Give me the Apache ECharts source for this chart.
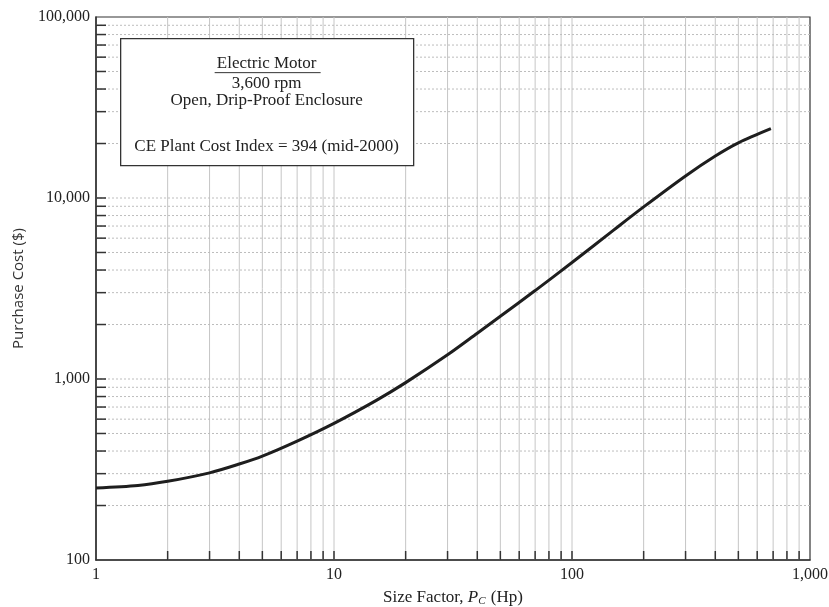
<!DOCTYPE html>
<html>
<head>
<meta charset="utf-8">
<title>Electric Motor Purchase Cost</title>
<script src="https://cdn.jsdelivr.net/npm/echarts@6/dist/echarts.min.js"></script>
<style>
  html, body { margin: 0; padding: 0; background: #fff; }
  #main { width: 829px; height: 607px; }
</style>
</head>
<body>
<div id="main"></div>
<script>
// size factor Pc (Hp) and purchase cost ($)
var sizeFactor = [1, 1.5, 2, 3, 4, 5, 7, 10, 15, 20, 30, 40, 50, 70, 100, 150, 200, 300, 400, 500, 685];
var purchaseCost = [250, 258, 272, 303, 339, 375, 454, 569, 760, 955, 1360, 1790, 2220, 3080, 4400, 6670, 8930, 13240, 17060, 20180, 24150];

// minor grid values (2..9 in every decade)
var xMinor = [2, 3, 4, 5, 6, 7, 8, 9, 20, 30, 40, 50, 60, 70, 80, 90, 200, 300, 400, 500, 600, 700, 800, 900];
var yMinor = [200, 300, 400, 500, 600, 700, 800, 900, 2000, 3000, 4000, 5000, 6000, 7000, 8000, 9000,
              20000, 30000, 40000, 50000, 60000, 70000, 80000, 90000];
var xDecades = [10, 100];
var yDecades = [1000, 10000];

var boxLines = ['Electric Motor', '3,600 rpm', 'Open, Drip-Proof Enclosure', 'CE Plant Cost Index = 394 (mid-2000)'];

var serif = '"Liberation Serif", "DejaVu Serif", serif';

function withCommas(v) {
    return String(Math.round(v)).replace(/\B(?=(\d{3})+(?!\d))/g, ',');
}

var myChart = echarts.init(document.getElementById('main'));

// vertical grid lines + short ticks on the x axis
function renderXGrid(params, api) {
    var cs = params.coordSys;
    var x = api.coord([api.value(0), 100])[0];
    var bottom = cs.y + cs.height;
    return {
        type: 'group',
        children: [
            { type: 'line', shape: { x1: x, y1: cs.y, x2: x, y2: bottom },
              style: { stroke: '#c6c6c6', lineWidth: 1 } },
            { type: 'line', shape: { x1: x, y1: bottom, x2: x, y2: bottom - 9 },
              style: { stroke: '#333', lineWidth: 1.5 } }
        ]
    };
}

// horizontal dotted grid lines + short ticks on the y axis
function renderYGrid(params, api) {
    var cs = params.coordSys;
    var y = api.coord([1, api.value(1)])[1];
    return {
        type: 'group',
        children: [
            { type: 'line', shape: { x1: cs.x, y1: y, x2: cs.x + cs.width, y2: y },
              style: { stroke: '#bdbdbd', lineWidth: 1, lineDash: [2, 2] } },
            { type: 'line', shape: { x1: cs.x, y1: y, x2: cs.x + 10, y2: y },
              style: { stroke: '#333', lineWidth: 1.5 } }
        ]
    };
}

function boxText(str, y) {
    return { type: 'text', x: 146, y: y, z: 101,
             style: { text: str, font: '17px ' + serif, fill: '#222', align: 'center', verticalAlign: 'middle' } };
}

var option = {
    animation: false,
    backgroundColor: '#fff',
    grid: {
        left: 96,
        right: 19,
        top: 17,
        bottom: 47,
        containLabel: false,
        outerBoundsMode: 'none',
        show: true,
        borderColor: '#333',
        borderWidth: 1.2
    },
    xAxis: {
        type: 'log',
        logBase: 10,
        min: 1,
        max: 1000,
        name: 'Size Factor, {i|P}{sub|C} (Hp)',
        nameLocation: 'middle',
        nameGap: 29,
        nameTextStyle: {
            fontFamily: serif,
            fontSize: 17,
            color: '#222',
            rich: {
                i: { fontFamily: serif, fontStyle: 'italic', fontSize: 17, color: '#222' },
                sub: { fontFamily: serif, fontStyle: 'italic', fontSize: 11, color: '#222', padding: [7, 1, 0, 0] }
            }
        },
        axisLine: { show: true, lineStyle: { color: '#333', width: 1.5 } },
        axisTick: { show: false },
        axisLabel: {
            fontFamily: serif,
            fontSize: 16,
            color: '#222',
            margin: 7,
            formatter: withCommas
        },
        splitLine: { show: false }
    },
    yAxis: {
        type: 'log',
        logBase: 10,
        min: 100,
        max: 100000,
        name: 'Purchase Cost ($)',
        nameLocation: 'middle',
        nameGap: 70,
        nameTextStyle: {
            fontFamily: '"Open Sans", "Noto Sans", sans-serif',
            fontSize: 15,
            color: '#333'
        },
        axisLine: { show: true, lineStyle: { color: '#333', width: 1.5 } },
        axisTick: { show: false },
        axisLabel: {
            fontFamily: serif,
            fontSize: 16,
            color: '#222',
            margin: 6,
            formatter: withCommas
        },
        splitLine: { show: false }
    },
    series: [
        {
            type: 'custom',
            name: 'xgrid',
            silent: true,
            renderItem: renderXGrid,
            data: xMinor.concat(xDecades).map(function (v) { return [v, 100]; }),
            z: 1
        },
        {
            type: 'custom',
            name: 'ygrid',
            silent: true,
            renderItem: renderYGrid,
            data: yMinor.concat(yDecades).map(function (v) { return [1, v]; }),
            z: 1
        },
        {
            type: 'line',
            name: 'cost',
            smooth: 0.3,
            showSymbol: false,
            lineStyle: { color: '#1e1e1e', width: 3 },
            data: sizeFactor.map(function (x, i) { return [x, purchaseCost[i]]; }),
            z: 5
        }
    ],
    graphic: [
        {
            type: 'group',
            left: 120,
            top: 38,
            z: 100,
            children: [
                { type: 'rect', z: 100, shape: { x: 0, y: 0, width: 293, height: 127 },
                  style: { fill: '#fff', stroke: '#333', lineWidth: 1.3 } },
                boxText(boxLines[0], 25),
                { type: 'line', z: 101, shape: { x1: 94, y1: 34, x2: 200, y2: 34 },
                  style: { stroke: '#333', lineWidth: 1 } },
                boxText(boxLines[1], 45),
                boxText(boxLines[2], 62),
                boxText(boxLines[3], 108)
            ]
        }
    ]
};

myChart.setOption(option);
</script>
</body>
</html>
